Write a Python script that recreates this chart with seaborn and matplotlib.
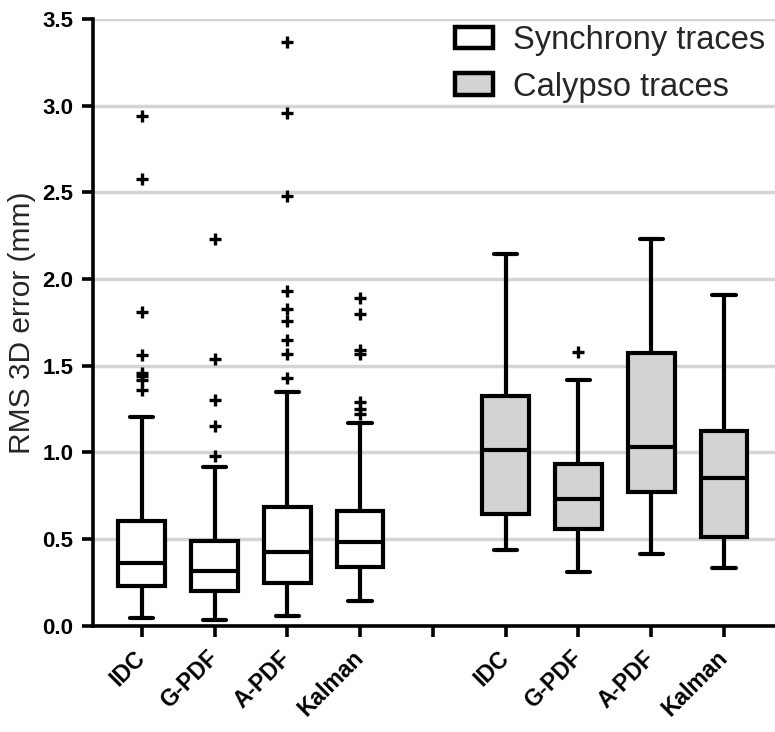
import numpy as np
import pandas as pd
import matplotlib
matplotlib.use("Agg")
import matplotlib.pyplot as plt
import seaborn as sns
from matplotlib.patches import Patch

# ---------------- data ----------------
methods = ["IDC", "G-PDF", "A-PDF", "Kalman"]
groups = ["Synchrony traces", "Calypso traces"]

# five-number summaries: whisker low, Q1, median, Q3, whisker high
sync_low = [0.042, 0.032, 0.055, 0.143]
sync_q1 = [0.228, 0.200, 0.247, 0.340]
sync_med = [0.363, 0.316, 0.423, 0.480]
sync_q3 = [0.605, 0.490, 0.686, 0.663]
sync_high = [1.202, 0.917, 1.348, 1.167]

caly_low = [0.436, 0.310, 0.413, 0.334]
caly_q1 = [0.645, 0.555, 0.772, 0.513]
caly_med = [1.015, 0.729, 1.032, 0.850]
caly_q3 = [1.325, 0.930, 1.575, 1.123]
caly_high = [2.145, 1.417, 2.233, 1.910]

sync_fliers = [
    [2.94, 2.58, 1.81, 1.56, 1.46, 1.44, 1.42, 1.36],
    [2.23, 1.54, 1.30, 1.15, 0.98],
    [3.37, 2.96, 2.48, 1.93, 1.83, 1.76, 1.65, 1.57, 1.43],
    [1.89, 1.80, 1.59, 1.57, 1.29, 1.25, 1.22],
]
caly_fliers = [[], [1.58], [], []]

sync_pos = [0, 1, 2, 3]
caly_pos = [5, 6, 7, 8]
tick_labels = methods + [""] + methods

# ---------------- build tables ----------------
rows = []
flier_rows = []
for grp, pos, lo, q1, md, q3, hi, fl in [
    (groups[0], sync_pos, sync_low, sync_q1, sync_med, sync_q3, sync_high, sync_fliers),
    (groups[1], caly_pos, caly_low, caly_q1, caly_med, caly_q3, caly_high, caly_fliers),
]:
    for i in range(4):
        for v in (lo[i], q1[i], md[i], q3[i], hi[i]):
            rows.append({"pos": pos[i], "value": v, "group": grp})
        for v in fl[i]:
            flier_rows.append({"pos": pos[i], "value": v, "group": grp})
box_df = pd.DataFrame(rows)
flier_df = pd.DataFrame(flier_rows)

# ---------------- figure ----------------
sns.set_theme(style="ticks")
plt.rcParams["font.family"] = ["Liberation Sans", "DejaVu Sans"]

fig = plt.figure(figsize=(7.75, 7.32), dpi=100)
ax = fig.add_axes([93 / 775, 1 - 625.5 / 732, 1 - 93 / 775, (625.5 - 19.3) / 732])

palette = {groups[0]: "white", groups[1]: "#d3d3d3"}
sns.boxplot(
    data=box_df, x="pos", y="value", hue="group", native_scale=True,
    dodge=False, width=0.64, whis=(0, 100), showfliers=False,
    palette=palette, saturation=1, linecolor="black", linewidth=3,
    legend=False, ax=ax,
)
sns.scatterplot(
    data=flier_df, x="pos", y="value", marker="+", s=85,
    color="black", linewidth=2.4, legend=False, ax=ax, zorder=5,
)

ax.set_xlim(-0.67, 8.7)
ax.set_ylim(0, 3.5)
ax.set_yticks(np.arange(0, 3.51, 0.5))
ax.set_yticklabels([f"{v:.1f}" for v in np.arange(0, 3.51, 0.5)],
                   fontsize=16, fontweight="bold")
ax.set_xticks(range(9))
ax.set_xticklabels(tick_labels, rotation=45, ha="right", va="center",
                   rotation_mode="anchor", fontsize=16.5, fontweight="bold")
ax.set_xlabel("")
ax.set_ylabel("RMS 3D error (mm)", fontsize=21.5, labelpad=5)

ax.yaxis.grid(True, color="#d5d5d5", linewidth=2.5)
ax.xaxis.grid(False)
ax.set_axisbelow(True)
sns.despine(ax=ax)
for s in ("left", "bottom"):
    ax.spines[s].set_linewidth(2.6)
    ax.spines[s].set_color("black")
ax.tick_params(axis="both", length=8, width=2.6, color="black",
               labelcolor="black", direction="out")
ax.tick_params(axis="x", pad=13)
ax.tick_params(axis="y", pad=6)

handles = [Patch(facecolor=palette[g], edgecolor="black", linewidth=3.2, label=g)
           for g in groups]
fig.legend(handles=handles, loc="upper left",
           bbox_to_anchor=(455 / 775, 1 - 25 / 732), bbox_transform=fig.transFigure,
           frameon=False, fontsize=23.5, borderpad=0, borderaxespad=0,
           handlelength=1.15, handleheight=0.65, handletextpad=0.62,
           labelspacing=0.48)

fig.savefig("out.png", dpi=100)
